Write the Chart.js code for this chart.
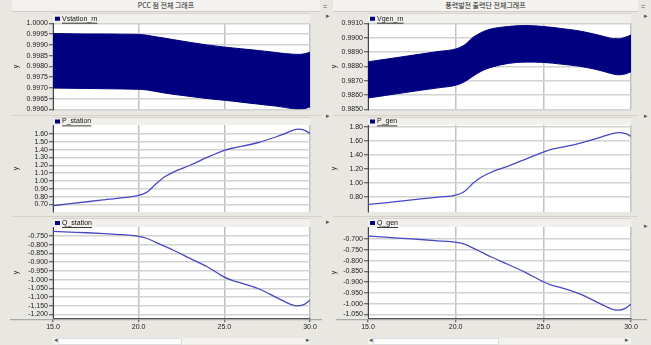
<!DOCTYPE html>
<html>
<head>
<meta charset="utf-8">
<script src="https://cdn.jsdelivr.net/npm/chart.js@4.4.1/dist/chart.umd.min.js"></script>
<style>
body{margin:0;background:#e9e7e1;width:651px;height:345px;overflow:hidden;position:relative;font-family:"Liberation Sans",Arial,sans-serif}
canvas{position:absolute}
.bar{position:absolute;top:0;height:11px;background:#f3f2ee;border-bottom:1px solid #cfcdc6;font:7px "Noto Sans CJK KR";color:#222;text-align:center;line-height:11px}
.btn{position:absolute;font:7px "Liberation Sans";color:#555}
.sep{position:absolute;height:1px;background:#d4d2cb}
.track{position:absolute;top:338px;height:6px;background:#f3f2ee}
.thumb{position:absolute;top:338px;height:5px;background:#fff;border:1px solid #ddd}
</style>
</head>
<body>
<div class="bar" style="left:12px;width:308px">PCC 점 전체 그래프</div>
<div class="bar" style="left:333px;width:305px">풍력발전 출력단 전체그래프</div>
<div class="btn" style="left:323px;top:3px">=</div>
<div class="btn" style="left:641px;top:3px">=</div>
<div class="btn" style="left:326px;top:12px">▸</div>
<div class="btn" style="left:644px;top:12px">▸</div>
<div class="btn" style="left:326px;top:112px">▸</div>
<div class="btn" style="left:644px;top:112px">▸</div>
<div class="btn" style="left:326px;top:218px">▸</div>
<div class="btn" style="left:644px;top:222px">▸</div>
<div class="sep" style="left:12px;top:115px;width:310px"></div>
<div class="sep" style="left:333px;top:115px;width:305px"></div>
<div class="sep" style="left:12px;top:216px;width:310px"></div>
<div class="sep" style="left:333px;top:216px;width:305px"></div>
<div class="track" style="left:53px;width:257px"></div>
<div class="thumb" style="left:58px;width:122px"></div>
<div class="btn" style="left:54px;top:336px">◂</div>
<div class="btn" style="left:306px;top:336px">▸</div>
<div class="track" style="left:368px;width:263px"></div>
<div class="thumb" style="left:373px;width:124px"></div>
<div class="btn" style="left:369px;top:336px">◂</div>
<div class="btn" style="left:625px;top:336px">▸</div>

<canvas id="c1" width="326" height="102" style="left:0;top:13px"></canvas>
<canvas id="c2" width="325" height="102" style="left:326px;top:13px"></canvas>
<canvas id="c3" width="326" height="100" style="left:0;top:117px"></canvas>
<canvas id="c4" width="325" height="100" style="left:326px;top:117px"></canvas>
<canvas id="c5" width="326" height="117" style="left:0;top:218px"></canvas>
<canvas id="c6" width="325" height="117" style="left:326px;top:218px"></canvas>

<script>
// time axis (s)
const times = [15, 16, 17, 18, 19, 20, 20.5, 21, 21.5, 22, 23, 24, 25, 25.5, 26, 27, 28, 28.5, 29, 29.3, 29.7, 30];

// envelope of the oscillating voltages
const vStationUpper = [0.99953, 0.99952, 0.99951, 0.99951, 0.99950, 0.99949, 0.99945, 0.99938, 0.99932, 0.99925, 0.99912, 0.99900, 0.99890, 0.99886, 0.99882, 0.99874, 0.99865, 0.99860, 0.99857, 0.99856, 0.99859, 0.99866];
const vStationLower = [0.99699, 0.99698, 0.99697, 0.99696, 0.99695, 0.99693, 0.99690, 0.99683, 0.99676, 0.99670, 0.99660, 0.99650, 0.99642, 0.99638, 0.99633, 0.99624, 0.99615, 0.99609, 0.99603, 0.99600, 0.99603, 0.99612];
const vGenUpper = [0.98832, 0.98850, 0.98868, 0.98886, 0.98904, 0.98922, 0.98950, 0.99004, 0.99039, 0.99061, 0.99079, 0.99086, 0.99079, 0.99073, 0.99065, 0.99049, 0.99023, 0.99008, 0.98994, 0.98993, 0.99005, 0.99020];
const vGenLower = [0.98579, 0.98597, 0.98615, 0.98633, 0.98650, 0.98668, 0.98692, 0.98732, 0.98769, 0.98793, 0.98821, 0.98830, 0.98828, 0.98823, 0.98816, 0.98802, 0.98779, 0.98763, 0.98746, 0.98741, 0.98748, 0.98762];

const pStation = [0.685, 0.71, 0.735, 0.76, 0.785, 0.815, 0.86, 0.96, 1.05, 1.11, 1.20, 1.30, 1.39, 1.42, 1.44, 1.49, 1.56, 1.60, 1.645, 1.66, 1.645, 1.605];
const pGen = [0.695, 0.72, 0.748, 0.775, 0.80, 0.828, 0.88, 1.00, 1.09, 1.15, 1.24, 1.34, 1.44, 1.48, 1.505, 1.56, 1.63, 1.67, 1.705, 1.715, 1.70, 1.665];
const qStation = [-0.723, -0.727, -0.731, -0.736, -0.742, -0.752, -0.764, -0.786, -0.808, -0.830, -0.878, -0.926, -0.985, -1.005, -1.020, -1.052, -1.100, -1.125, -1.146, -1.150, -1.140, -1.118];
const qGen = [-0.686, -0.691, -0.697, -0.702, -0.708, -0.715, -0.723, -0.742, -0.762, -0.782, -0.818, -0.856, -0.898, -0.915, -0.925, -0.952, -0.990, -1.010, -1.027, -1.030, -1.020, -1.002];

// tick labels
const xTicks = [15, 20, 25, 30];
const vStationTicks = [0.9960, 0.9965, 0.9970, 0.9975, 0.9980, 0.9985, 0.9990, 0.9995, 1.0000];
const vGenTicks = [0.9850, 0.9860, 0.9870, 0.9880, 0.9890, 0.9900, 0.9910];
const pStationTicks = [0.70, 0.80, 0.90, 1.00, 1.10, 1.20, 1.30, 1.40, 1.50, 1.60];
const pGenTicks = [0.80, 1.00, 1.20, 1.40, 1.60, 1.80];
const qStationTicks = [-1.200, -1.150, -1.100, -1.050, -1.000, -0.950, -0.900, -0.850, -0.800, -0.750];
const qGenTicks = [-1.050, -1.000, -0.950, -0.900, -0.850, -0.800, -0.750, -0.700];

const pts = (ys) => times.map((t, i) => ({x: t, y: ys[i]}));
const tickFont = {family: '"Liberation Sans", Arial, sans-serif', size: 7};

// white plot, legend strip and legend entry
const panelPlugin = {
    id: 'panel',
    beforeDraw(chart, args, o) {
        const {ctx, chartArea: a} = chart;
        ctx.save();
        ctx.fillStyle = '#ffffff';
        ctx.fillRect(a.left, a.top, a.right - a.left, a.bottom - a.top);
        ctx.fillStyle = '#f1f0ec';
        ctx.fillRect(a.left, 0, a.right - a.left, a.top);
        ctx.fillStyle = '#d6d4cd';
        ctx.fillRect(a.left, 0, a.right - a.left, 1);
        ctx.restore();
    },
    afterDraw(chart, args, o) {
        const {ctx, chartArea: a} = chart;
        ctx.save();
        const cy = a.top / 2 + 0.5;
        ctx.fillStyle = '#000080';
        ctx.fillRect(a.left + 2, cy - 2, 5, 4);
        ctx.font = '7px "Liberation Sans", Arial, sans-serif';
        ctx.fillStyle = '#111';
        ctx.textBaseline = 'middle';
        ctx.fillText(o.label, a.left + 9, cy);
        const w = ctx.measureText(o.label).width;
        ctx.fillRect(a.left + 9, cy + 4, w, 0.8);
        if (o.baseLine) {
            ctx.fillStyle = '#9a9a9a';
            ctx.fillRect(10, a.bottom + 1, chart.width - 14, 1);
        }
        ctx.restore();
    }
};

function makePanel(id, cfg) {
    const left = cfg.col === 0;
    new Chart(document.getElementById(id), {
        type: 'line',
        data: {datasets: cfg.datasets},
        plugins: [panelPlugin],
        options: {
            responsive: false,
            animation: false,
            events: [],
            layout: {padding: {left: 0, right: left ? 16 : 20, top: cfg.padTop, bottom: cfg.padBottom}},
            elements: {point: {radius: 0}, line: {cubicInterpolationMode: 'monotone'}},
            plugins: {
                legend: {display: false},
                tooltip: {enabled: false},
                panel: {label: cfg.label, baseLine: cfg.showX}
            },
            scales: {
                x: {
                    type: 'linear', min: 15, max: 30,
                    afterBuildTicks: (s) => { s.ticks = xTicks.map(v => ({value: v})); },
                    grid: {color: '#c2c2c2', lineWidth: 1.5, drawTicks: cfg.showX, tickLength: 4, tickColor: '#444', tickWidth: 1},
                    border: {display: cfg.showX, color: '#555', width: 1},
                    ticks: {display: cfg.showX, autoSkip: false, font: tickFont, color: '#222', padding: 1, maxRotation: 0,
                        callback: (v) => v.toFixed(1)}
                },
                y: {
                    min: cfg.yMin, max: cfg.yMax,
                    afterBuildTicks: (s) => { s.ticks = cfg.yTicks.map(v => ({value: v})); },
                    afterFit: (s) => { s.width = left ? 53 : 42; },
                    grid: {color: '#d2d2d2', lineWidth: 1.5, tickLength: 4, tickColor: '#444', tickWidth: 1},
                    border: {display: true, color: '#444', width: 1},
                    ticks: {autoSkip: false, font: tickFont, color: '#222', padding: 1, callback: (v) => v.toFixed(cfg.dec)},
                    title: {display: true, text: 'y', font: tickFont, color: '#222', padding: {top: left ? 12 : 4, bottom: 0}}
                }
            }
        }
    });
}

const band = (lower, upper) => [
    {data: pts(lower), borderColor: '#000080', backgroundColor: '#000080', borderWidth: 1, fill: false},
    {data: pts(upper), borderColor: '#000080', backgroundColor: '#000080', borderWidth: 1, fill: '-1'}
];
const curve = (ys) => [{data: pts(ys), borderColor: '#4848c4', borderWidth: 1.3, fill: false}];

makePanel('c1', {col: 0, label: 'Vstation_rn', datasets: band(vStationLower, vStationUpper), yMin: 0.9960, yMax: 1.0000, yTicks: vStationTicks, dec: 4, padTop: 10.5, padBottom: 5.7, showX: false});
makePanel('c2', {col: 1, label: 'Vgen_rn', datasets: band(vGenLower, vGenUpper), yMin: 0.9850, yMax: 0.9910, yTicks: vGenTicks, dec: 4, padTop: 10.5, padBottom: 5.7, showX: false});
makePanel('c3', {col: 0, label: 'P_station', datasets: curve(pStation), yMin: 0.607, yMax: 1.713, yTicks: pStationTicks, dec: 2, padTop: 8, padBottom: 5, showX: false});
makePanel('c4', {col: 1, label: 'P_gen', datasets: curve(pGen), yMin: 0.592, yMax: 1.824, yTicks: pGenTicks, dec: 2, padTop: 8, padBottom: 5, showX: false});
makePanel('c5', {col: 0, label: 'Q_station', datasets: curve(qStation), yMin: -1.221, yMax: -0.698, yTicks: qStationTicks, dec: 3, padTop: 9, padBottom: 2.4, showX: true});
makePanel('c6', {col: 1, label: 'Q_gen', datasets: curve(qGen), yMin: -1.067, yMax: -0.644, yTicks: qGenTicks, dec: 3, padTop: 9, padBottom: 2.4, showX: true});
</script>
</body>
</html>
